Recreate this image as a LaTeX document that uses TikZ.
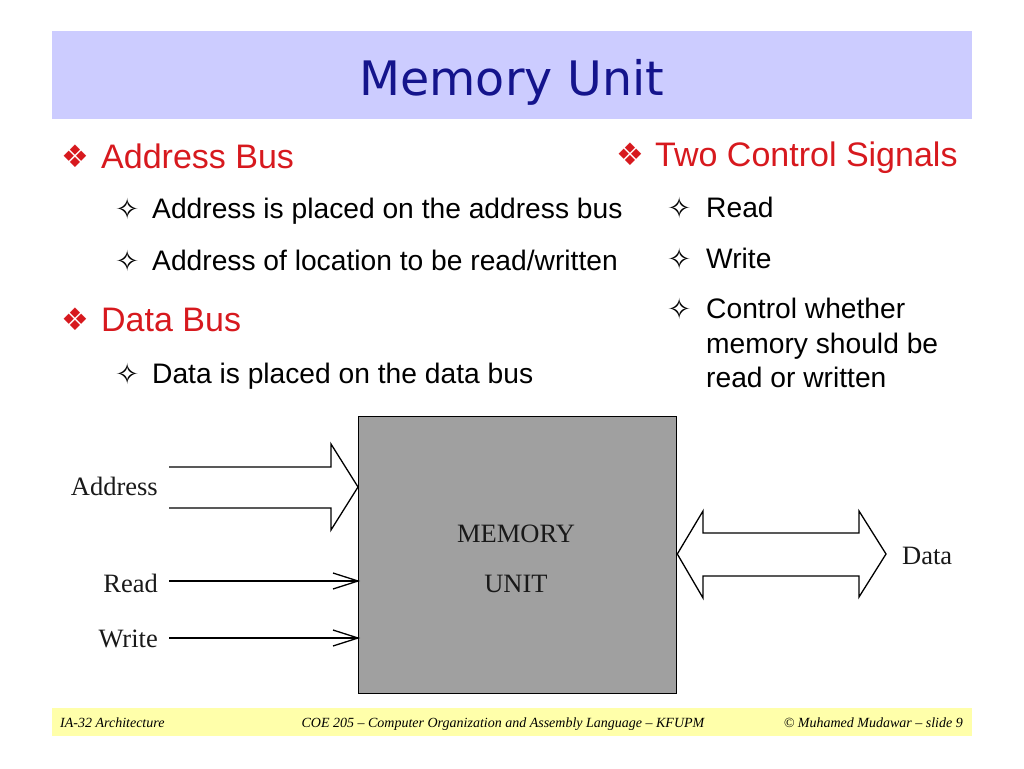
\documentclass[tikz,border=0pt]{standalone}
\usepackage{fontspec}
\setmainfont{Liberation Sans}
\newfontfamily\tmsfont{Liberation Serif}
\newfontfamily\djvfont{DejaVu Sans}
\definecolor{titleband}{RGB}{204,204,255}
\definecolor{titleblue}{RGB}{20,20,140}
\definecolor{headred}{RGB}{215,25,30}
\definecolor{footband}{RGB}{255,255,170}
\definecolor{boxgray}{RGB}{160,160,160}
\begin{document}
\begin{tikzpicture}[x=1pt,y=-1pt,line join=miter,
  head/.style={inner sep=0,anchor=base west,text=headred,font=\fontsize{34}{34}\selectfont},
  hbul/.style={inner sep=0,anchor=base west,text=headred,font=\djvfont\fontsize{31}{31}\selectfont},
  sub/.style={inner sep=0,anchor=base west,text=black,font=\fontsize{28.2}{28.2}\selectfont},
  sbul/.style={inner sep=0,anchor=base west,text=black,font=\djvfont\fontsize{29}{29}\selectfont},
  diag/.style={inner sep=0,text=black!90,font=\tmsfont\fontsize{26.5}{26.5}\selectfont},
  foot/.style={inner sep=0,anchor=base,font=\tmsfont\itshape\fontsize{14}{14}\selectfont},
  wire/.style={draw=black,line width=1.3pt}]
\useasboundingbox (0,0) rectangle (1024,768);
\fill[white] (0,0) rectangle (1024,768);
% title band
\node[fill=titleband,minimum width=920pt,minimum height=88pt,inner sep=0,anchor=north west] (band) at (52,31) {};
\node[inner sep=0,anchor=base,text=titleblue,font=\djvfont\fontsize{47.5}{47.5}\selectfont] (title) at (512,95) {Memory Unit};
% left column
\node[hbul] (b1) at (61,167) {❖};
\node[head] (h1) at (101,168) {Address Bus};
\node[sbul] (s1) at (115,219) {✧};
\node[sub] (t1) at (152,218) {Address is placed on the address bus};
\node[sbul] (s2) at (115,271) {✧};
\node[sub] (t2) at (152,270) {Address of location to be read/written};
\node[hbul] (b2) at (61,330) {❖};
\node[head] (h2) at (101,331) {Data Bus};
\node[sbul] (s3) at (115,384) {✧};
\node[sub] (t3) at (152,383) {Data is placed on the data bus};
% right column
\node[hbul] (b3) at (616,165) {❖};
\node[head] (h3) at (655,166) {Two Control Signals};
\node[sbul] (s4) at (667,218) {✧};
\node[sub] (t4) at (706,217) {Read};
\node[sbul] (s5) at (667,269) {✧};
\node[sub] (t5) at (706,268) {Write};
\node[sbul] (s6) at (667,319) {✧};
\node[sub] (t6) at (706,318) {Control whether};
\node[sub] (t7) at (706,353) {memory should be};
\node[sub] (t8) at (706,387) {read or written};
% memory box
\node[draw=black,fill=boxgray,line width=1.3pt,minimum width=318pt,minimum height=277pt,inner sep=0,anchor=north west] (mem) at (358,416) {};
\node[diag,anchor=base] (m1) at (516,542) {MEMORY};
\node[diag,anchor=base] (m2) at (516,592) {UNIT};
% address bus arrow
\path (mem.north west) ++(0,71) coordinate (atip);
\coordinate (aL1) at (169,467);
\coordinate (aL2) at (169,508);
\draw[wire] (aL1) -- (331,467) -- (331,444) -- (atip) -- (331,530) -- (331,508) -- (aL2);
\node[diag,anchor=base east] (la) at (158,495) {Address};
% read / write
\path (mem.north west) ++(0,165) coordinate (rtip);
\path (mem.north west) ++(0,222) coordinate (wtip);
\coordinate (rL) at (169,581);
\coordinate (wL) at (169,638);
\draw[wire] (rL) -- (rtip);
\draw[wire] (333,573) -- (rtip) -- (333,589);
\draw[wire] (wL) -- (wtip);
\draw[wire] (333,630) -- (wtip) -- (333,646);
\node[diag,anchor=base east] (lr) at (158,592) {Read};
\node[diag,anchor=base east] (lw) at (158,647) {Write};
% data bus double arrow
\path (mem.north east) ++(0,138) coordinate (dtip);
\draw[wire,fill=white] (dtip) -- (703,511) -- (703,533) -- (859,533) -- (859,511) -- (886,554) -- (859,597) -- (859,576) -- (703,576) -- (703,598) -- cycle;
\node[diag,anchor=base west] (ld) at (902,564) {Data};
% footer
\node[fill=footband,minimum width=920pt,minimum height=28pt,inner sep=0,anchor=north west] (fband) at (52,708) {};
\node[foot,anchor=base west] (f1) at (60,727) {IA-32 Architecture};
\node[foot] (f2) at (503,727) {COE 205 – Computer Organization and Assembly Language – KFUPM};
\node[foot,anchor=base east] (f3) at (963,727) {© Muhamed Mudawar – slide 9};
\end{tikzpicture}
\end{document}
